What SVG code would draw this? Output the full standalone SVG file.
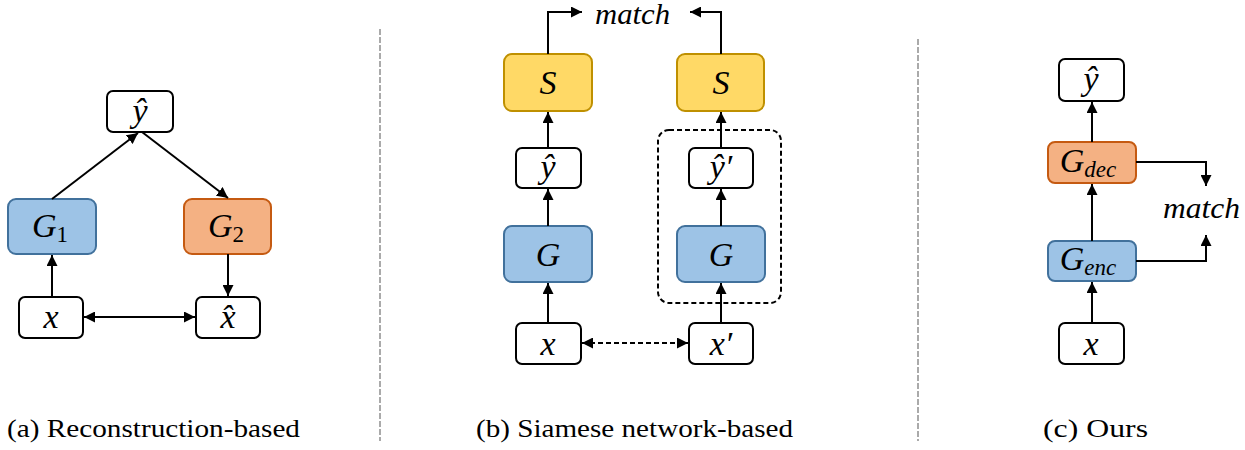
<svg xmlns="http://www.w3.org/2000/svg" width="1245" height="450" viewBox="0 0 1245 450">
<style>
.box{fill:#fff;stroke:#000;stroke-width:2}
.blue{fill:#9DC3E6;stroke:#41719C;stroke-width:2}
.orange{fill:#F4B183;stroke:#C55A11;stroke-width:2}
.yellow{fill:#FFD966;stroke:#BF9000;stroke-width:2}
.m{font-family:'Liberation Serif','Times New Roman',serif;font-style:italic;font-size:34px;fill:#000;text-anchor:middle}
.mt{font-family:'Liberation Serif','Times New Roman',serif;font-style:italic;font-size:29px;fill:#000}
.cap{font-family:'Liberation Serif','Times New Roman',serif;font-size:25px;fill:#000}
.ln{fill:none;stroke:#000;stroke-width:2}
.dash{stroke-dasharray:5 3}
.div{stroke:#AAAAAA;stroke-width:2;stroke-dasharray:6 2}
.sub{font-size:23px}
.up{font-style:normal}
</style>
<defs>
<marker id="ah" viewBox="0 0 10 10" refX="10" refY="5" markerWidth="11" markerHeight="11" markerUnits="userSpaceOnUse" orient="auto-start-reverse">
<path d="M0,0 L10,5 L0,10 z" fill="#000"/>
</marker>
</defs>

<g id="dividers">
<line class="div" x1="380" y1="29" x2="380" y2="441"/>
<line class="div" x1="918" y1="39" x2="918" y2="441"/>
</g>

<!-- Panel a -->
<g id="a-yhat"><rect class="box" x="107" y="91" width="66" height="41" rx="6"/><text class="m" x="140" y="122">ŷ</text></g>
<g id="a-G1"><rect class="blue" x="8" y="199" width="88" height="55" rx="8"/><text class="m" x="50" y="237">G<tspan class="sub up" dy="5">1</tspan></text></g>
<g id="a-G2"><rect class="orange" x="184" y="199" width="87" height="55" rx="8"/><text class="m" x="226" y="237">G<tspan class="sub up" dy="5">2</tspan></text></g>
<g id="a-x"><rect class="box" x="19" y="297" width="64" height="41" rx="6"/><text class="m" x="51" y="328">x</text></g>
<g id="a-xhat"><rect class="box" x="196" y="297" width="64" height="41" rx="6"/><text class="m" x="228" y="328">x̂</text></g>

<!-- Panel b -->
<g id="b-S1"><rect class="yellow" x="504" y="54" width="88" height="57" rx="8"/><text class="m" x="548" y="94">S</text></g>
<g id="b-S2"><rect class="yellow" x="677" y="54" width="87" height="57" rx="8"/><text class="m" x="721" y="94">S</text></g>
<g id="b-yhat1"><rect class="box" x="516" y="148" width="65" height="40" rx="6"/><text class="m" x="548" y="178">ŷ</text></g>
<g id="b-yhat2"><rect class="box" x="689" y="148" width="64" height="40" rx="6"/><text class="m" x="721" y="178">ŷ′</text></g>
<g id="b-G1"><rect class="blue" x="504" y="226" width="88" height="56" rx="8"/><text class="m" x="548" y="266">G</text></g>
<g id="b-G2"><rect class="blue" x="677" y="226" width="88" height="56" rx="8"/><text class="m" x="721" y="266">G</text></g>
<g id="b-x1"><rect class="box" x="516" y="323" width="65" height="41" rx="6"/><text class="m" x="548" y="355">x</text></g>
<g id="b-x2"><rect class="box" x="689" y="323" width="64" height="41" rx="6"/><text class="m" x="721" y="355">x′</text></g>
<g id="b-group"><rect class="ln dash" x="658" y="130" width="123" height="173" rx="11"/></g>
<g id="b-match"><text class="mt" x="595" y="24" textLength="75" lengthAdjust="spacingAndGlyphs">match</text></g>

<!-- Panel c -->
<g id="c-yhat"><rect class="box" x="1059" y="59" width="65" height="42" rx="6"/><text class="m" x="1091" y="90">ŷ</text></g>
<g id="c-Gdec"><rect class="orange" x="1048" y="142" width="88" height="41" rx="7"/><text class="m" x="1088" y="172">G<tspan class="sub" dy="5">dec</tspan></text></g>
<g id="c-Genc"><rect class="blue" x="1048" y="241" width="88" height="40" rx="7"/><text class="m" x="1088" y="270">G<tspan class="sub" dy="5">enc</tspan></text></g>
<g id="c-x"><rect class="box" x="1059" y="323" width="65" height="41" rx="6"/><text class="m" x="1091" y="355">x</text></g>
<g id="c-match"><text class="mt" x="1163" y="218" textLength="77" lengthAdjust="spacingAndGlyphs">match</text></g>

<g id="connectors">
<line class="ln" x1="52" y1="199" x2="138" y2="133" marker-end="url(#ah)"/>
<line class="ln" x1="142" y1="132" x2="228" y2="198" marker-end="url(#ah)"/>
<line class="ln" x1="52" y1="297" x2="52" y2="255" marker-end="url(#ah)"/>
<line class="ln" x1="228" y1="254" x2="228" y2="296" marker-end="url(#ah)"/>
<line class="ln" x1="84" y1="317" x2="195" y2="317" marker-start="url(#ah)" marker-end="url(#ah)"/>

<line class="ln" x1="548" y1="148" x2="548" y2="112" marker-end="url(#ah)"/>
<line class="ln" x1="548" y1="226" x2="548" y2="189" marker-end="url(#ah)"/>
<line class="ln" x1="548" y1="323" x2="548" y2="283" marker-end="url(#ah)"/>
<line class="ln" x1="721" y1="148" x2="721" y2="112" marker-end="url(#ah)"/>
<line class="ln" x1="721" y1="226" x2="721" y2="189" marker-end="url(#ah)"/>
<line class="ln" x1="721" y1="323" x2="721" y2="283" marker-end="url(#ah)"/>
<polyline class="ln" points="548,54 548,12 582,12" marker-end="url(#ah)"/>
<polyline class="ln" points="721,54 721,12 690,12" marker-end="url(#ah)"/>
<line class="ln dash" x1="582" y1="343" x2="688" y2="343" marker-start="url(#ah)" marker-end="url(#ah)"/>

<line class="ln" x1="1092" y1="323" x2="1092" y2="282" marker-end="url(#ah)"/>
<line class="ln" x1="1092" y1="241" x2="1092" y2="184" marker-end="url(#ah)"/>
<line class="ln" x1="1092" y1="142" x2="1092" y2="102" marker-end="url(#ah)"/>
<polyline class="ln" points="1136,162 1206,162 1206,186" marker-end="url(#ah)"/>
<polyline class="ln" points="1136,261 1206,261 1206,235" marker-end="url(#ah)"/>
</g>

<g id="captions">
<text class="cap" x="7" y="437" textLength="293" lengthAdjust="spacingAndGlyphs">(a) Reconstruction-based</text>
<text class="cap" x="476" y="437" textLength="317" lengthAdjust="spacingAndGlyphs">(b) Siamese network-based</text>
<text class="cap" x="1043" y="437" textLength="105" lengthAdjust="spacingAndGlyphs">(c) Ours</text>
</g>
</svg>
